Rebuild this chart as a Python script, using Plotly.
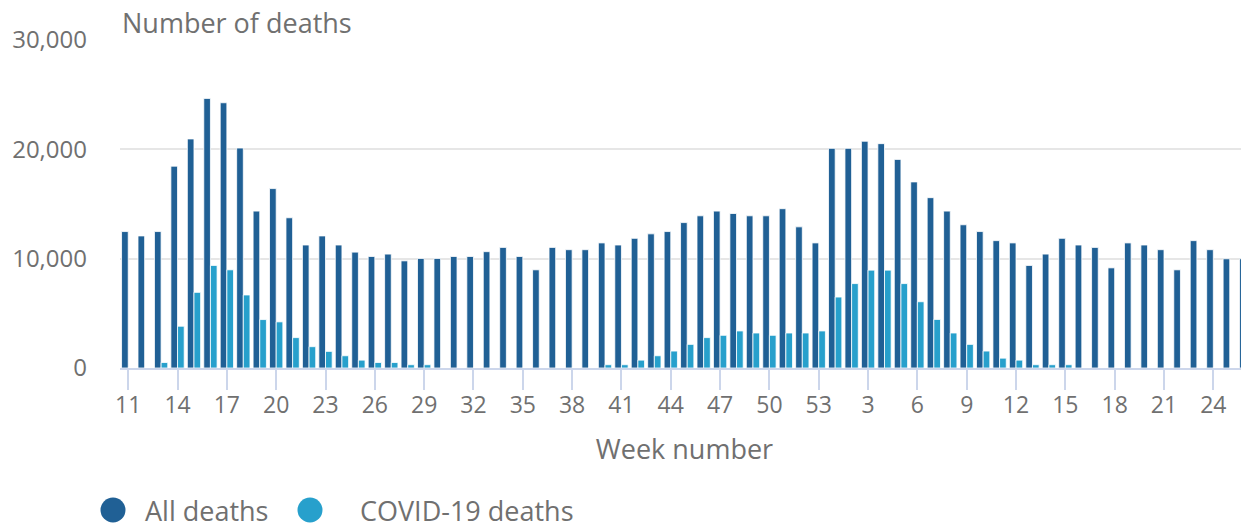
import plotly.graph_objects as go

weeks = [str(w) for w in range(11, 54)] + [str(w) for w in range(1, 27)]

all_deaths = [
    12480, 12080, 12480, 18460, 20950, 24660, 24260, 20120, 14350, 16410,
    13740, 11250, 12080, 11250, 10600, 10200, 10420, 9800, 10020, 10020,
    10200, 10200, 10640, 11030, 10200, 8980, 11030, 10820, 10820, 11440,
    11250, 11860, 12270, 12480, 13300, 13920, 14350, 14130, 13920, 13920,
    14570, 12910, 11440,
    20090, 20090, 20740, 20520, 19080, 17020, 15580, 14350, 13100, 12480,
    11650, 11440, 9380, 10420, 11860, 11250, 11030, 9160, 11440, 11250,
    10820, 8980, 11650, 10820, 9990, 9990,
]

covid_deaths = [
    0, 0, 500, 3820, 6920, 9380, 8980, 6680, 4430, 4220,
    2780, 1950, 1520, 1120, 720, 500, 500, 300, 300, 0,
    0, 0, 0, 0, 0, 0, 0, 0, 0, 300,
    300, 720, 1120, 1550, 2160, 2780, 2990, 3390, 3200, 2990,
    3200, 3200, 3390,
    6490, 7720, 8950, 8950, 7720, 6060, 4440, 3200, 2160, 1550,
    900, 720, 300, 300, 300, 0, 0, 0, 0, 0,
    0, 0, 0, 0, 0, 0,
]

series_names = ["All deaths", "COVID-19 deaths"]
colors = ["#206095", "#27a0cc"]

x_idx = list(range(len(weeks)))
tick_idx = x_idx[::3]
tick_text = [weeks[i] for i in tick_idx]

FONT = "Open Sans"
GREY = "#707070"

# The page body has an 8px default margin, so the figure is made 8px
# smaller and every pixel position below is given in figure coordinates.
BODY = 8
FIG_W, FIG_H = 1249 - BODY, 524 - BODY
PLOT_LEFT = 120 - BODY
PLOT_TOP = 40 - BODY
PLOT_BOTTOM = 368 - BODY

fig = go.Figure()
for name, vals, col in zip(series_names, [all_deaths, covid_deaths], colors):
    fig.add_trace(go.Bar(
        x=x_idx, y=vals, name=name, showlegend=False,
        marker=dict(color=col, line=dict(color="white", width=0.8)),
    ))

# custom legend (circle symbols + labels) below the axis title
legend_circle_x = [113 - BODY, 310 - BODY]
legend_text_x = [143 - BODY, 358 - BODY]
legend_y = 510 - BODY
shapes = []
annotations = [dict(
    text="Number of deaths", xref="paper", yref="paper", x=0, y=1,
    xanchor="left", yanchor="middle", yshift=18, showarrow=False,
    font=dict(size=27, color=GREY),
)]
for name, col, cx, tx in zip(series_names, colors, legend_circle_x, legend_text_x):
    r = 12.5
    dx = cx - PLOT_LEFT
    dy = -(legend_y - PLOT_BOTTOM)
    shapes.append(dict(
        type="circle", xref="paper", yref="paper",
        xsizemode="pixel", ysizemode="pixel", xanchor=0, yanchor=0,
        x0=dx - r, x1=dx + r, y0=dy - r, y1=dy + r,
        fillcolor=col, line=dict(width=0),
    ))
    annotations.append(dict(
        text=name, xref="paper", yref="paper", x=0, y=0,
        xanchor="left", yanchor="middle",
        xshift=tx - PLOT_LEFT, yshift=dy, showarrow=False,
        font=dict(size=27, color=GREY),
    ))

fig.update_layout(
    width=FIG_W, height=FIG_H,
    margin=dict(l=PLOT_LEFT, r=0, t=PLOT_TOP, b=FIG_H - PLOT_BOTTOM, autoexpand=False),
    paper_bgcolor="white", plot_bgcolor="white",
    barmode="group", bargap=0.19, bargroupgap=0,
    font=dict(family=FONT, color=GREY, size=22),
    showlegend=False,
    xaxis=dict(
        range=[-0.5, 68.17],
        tickmode="array", tickvals=tick_idx, ticktext=tick_text,
        ticks="outside", ticklen=20, tickwidth=2, tickcolor="#ccd6eb",
        showline=True, linecolor="#ccd6eb", linewidth=2,
        showgrid=False, zeroline=False,
        tickfont=dict(size=23, color=GREY), ticklabelstandoff=-5,
        title=dict(text="Week number", font=dict(size=27, color=GREY), standoff=22),
    ),
    yaxis=dict(
        range=[0, 30000], dtick=10000, tickformat=",",
        showgrid=True, gridcolor="#e6e6e6", gridwidth=1.5,
        zeroline=False, showline=False,
        ticks="", ticklabelstandoff=32,
        tickfont=dict(size=24, color=GREY),
    ),
    shapes=shapes,
    annotations=annotations,
)

fig.write_html("out.html")
